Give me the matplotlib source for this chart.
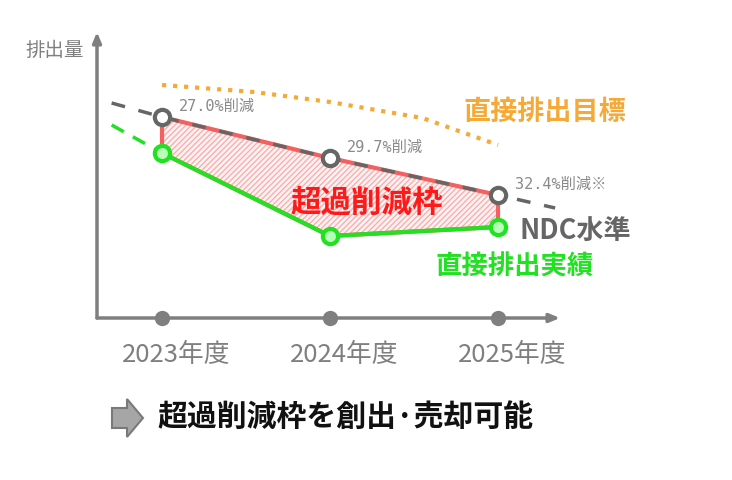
import numpy as np
import matplotlib
matplotlib.use("Agg")
import matplotlib.pyplot as plt
from matplotlib.patches import Polygon

plt.rcParams['font.family'] = ['Noto Sans CJK JP', 'DejaVu Sans']
plt.rcParams['hatch.linewidth'] = 1.0

# data (emission index, arbitrary units)
years = [2023, 2024, 2025]
year_labels = ["2023年度", "2024年度", "2025年度"]
ndc = [100.5, 80, 61.5]
actual = [82.5, 41, 45.5]
target_years = [2023, 2023.55, 2024, 2024.55, 2025]
target = [116.5, 113, 108, 100, 86.5]
ndc_ext_years = [2022.7, 2023, 2024, 2025, 2025.34]
ndc_ext = [107.5, 100.5, 80, 61.5, 55]
actual_ext_years = [2022.7, 2023]
actual_ext = [96.5, 82.5]
cut_labels = ["27.0%削減", "29.7%削減", "32.4%削減※"]

GRAY = "#7f7f7f"
DGRAY = "#666666"
ORANGE = "#f5a936"
GREEN = "#22e022"
RED = "#f26060"

fig = plt.figure(figsize=(7.32, 4.8), dpi=100)
ax = fig.add_axes([97 / 732, 1 - 318 / 480, (560 - 97) / 732, (318 - 32) / 480])
ax.set_xlim(2022.613, 2025.369)
ax.set_ylim(0, 143)
for s in ax.spines.values():
    s.set_visible(False)
ax.set_xticks([])
ax.set_yticks([])

# axes arrows
ax.annotate("", xy=(0, 1), xytext=(0, 0), xycoords="axes fraction",
            arrowprops=dict(arrowstyle="-|>,head_length=0.6,head_width=0.25",
                            color=GRAY, lw=2.5, shrinkA=0, shrinkB=0))
ax.annotate("", xy=(1, 0), xytext=(0, 0), xycoords="axes fraction",
            arrowprops=dict(arrowstyle="-|>,head_length=0.6,head_width=0.25",
                            color=GRAY, lw=2.5, shrinkA=0, shrinkB=0))
ax.plot(years, [0] * 3, "o", color=GRAY, ms=10, clip_on=False, zorder=5)

# excess reduction area
area = list(zip(years, ndc)) + list(zip(years[::-1], actual[::-1]))
ax.add_patch(Polygon(area, closed=True, facecolor="#fff2f2", edgecolor="#f7b0b0",
                     hatch="//////", lw=0, zorder=2))
ax.add_patch(Polygon(area, closed=True, fill=False, edgecolor=RED, lw=3, zorder=3))

ax.plot(target_years, target, ":", color=ORANGE, lw=3, zorder=2)
ax.plot(ndc_ext_years, ndc_ext, "--", color=DGRAY, lw=2.5, dashes=(4, 4), zorder=4)
ax.plot(actual_ext_years, actual_ext, "--", color=GREEN, lw=2.5, dashes=(4, 3), zorder=4)
ax.plot(years, actual, "-", color=GREEN, lw=3, zorder=4)
ax.plot(years, actual, "o", color=GREEN, mfc="#b8ffb8", mew=3, ms=11, zorder=6)
ax.plot(years, ndc, "o", color=DGRAY, mfc="white", mew=3, ms=11, zorder=6)

for x, y, lab in zip(years, ndc, cut_labels):
    ax.annotate(lab, (x, y), xytext=(12, 2), textcoords="offset points",
                color="#8a8a8a", fontsize=11, va="bottom", ha="left",
                family=["DejaVu Sans Mono", "Noto Sans CJK JP"])

for x, lab in zip(years, year_labels):
    ax.annotate(lab, (x, 0), xytext=(10, -27), textcoords="offset points",
                ha="center", va="center", fontsize=18.5, color=GRAY)

fig.text(25 / 732, 1 - 50 / 480, "排出量", fontsize=14, color=GRAY, ha="left", va="center")
fig.text(463 / 732, 1 - 112 / 480, "直接排出目標", fontsize=19.5, color=ORANGE,
         fontweight="bold", ha="left", va="center")
fig.text(520 / 732, 1 - 232 / 480, "NDC水準", fontsize=19.5, color=DGRAY,
         fontweight="bold", ha="left", va="center")
fig.text(435 / 732, 1 - 267 / 480, "直接排出実績", fontsize=19, color=GREEN,
         fontweight="bold", ha="left", va="center")
fig.text(367 / 732, 1 - 203 / 480, "超過削減枠", fontsize=22, color="#ff1a1a",
         fontweight="bold", ha="center", va="center", zorder=10)

# bottom arrow icon + message
W, H = 732, 480
pts = [(112, 408), (127, 408), (127, 399), (143, 418), (127, 437), (127, 428), (112, 428)]
fig.patches.append(Polygon([(px / W, 1 - py / H) for px, py in pts], closed=True,
                           transform=fig.transFigure, facecolor="#a6a6a6",
                           edgecolor="#7a7a7a", lw=1.5))
fig.text(157 / 732, 1 - 417 / 480, "超過削減枠を創出·売却可能", fontsize=21.5,
         color="#111111", fontweight="bold", ha="left", va="center")

fig.savefig("out.png", dpi=100)
